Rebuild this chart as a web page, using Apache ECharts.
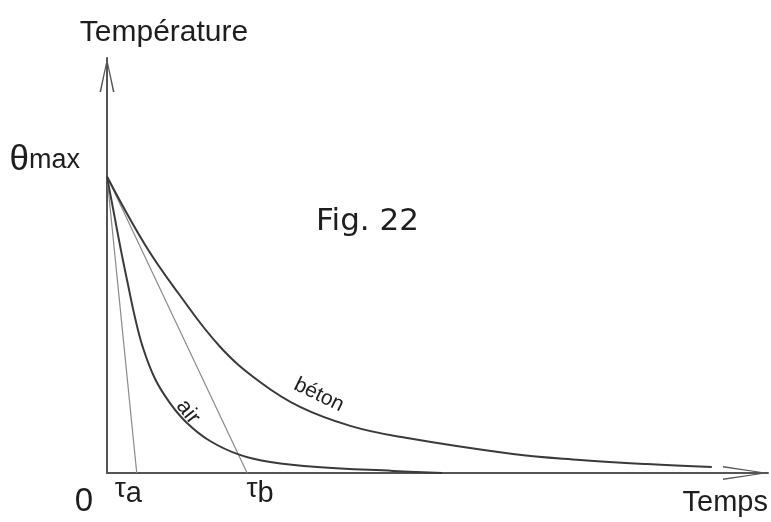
<!DOCTYPE html>
<html>
<head>
<meta charset="utf-8">
<script src="https://cdn.jsdelivr.net/npm/echarts@6/dist/echarts.min.js"></script>
<style>
html,body{margin:0;padding:0;background:#fff;}
#c{width:771px;height:522px;}
</style>
</head>
<body>
<div id="c"></div>
<script>
// ---- data (time in arbitrary units 0..100, temperature with θmax = 100)
const airTime     = [0, 1.06, 2.12, 3.18, 4.24, 5.45, 7.26, 9.53, 12.1, 15.6, 20.1, 24.7, 31.8, 43.3, 50.7];
const airTemp     = [100, 87.5, 75.0, 63.5, 52.4, 42.2, 31.8, 23.6, 16.9, 10.8, 6.1, 3.7, 2.0, 0.7, 0];
const betonTime   = [0, 5.75, 10.74, 17.1, 23.15, 29.2, 36.8, 44.3, 61.4, 71.6, 81.7, 91.5];
const betonTemp   = [100, 77.0, 60.8, 42.6, 30.7, 22.3, 15.9, 12.2, 6.4, 4.4, 3.0, 2.0];
const tangentATime = [0, 4.5];
const tangentATemp = [100, 0];
const tangentBTime = [0, 21.2];
const tangentBTemp = [100, 0];
const xTickValues  = [0, 4.5, 21.2];
const xTickLabels  = ['0', 'τa', 'τb'];
const yTickValue   = 100;
const yTickLabel   = 'θmax';
const curveNames   = ['air', 'béton'];
const axisNames    = ['Temps', 'Température'];
const figTitle     = 'Fig. 22';

function pairs(xs, ys) { return xs.map((x, i) => [x, ys[i]]); }

const FONT = '"Liberation Sans", Arial, sans-serif';
const TXT = '#1e1e1e';

const chart = echarts.init(document.getElementById('c'), null, {renderer: 'canvas'});

const xRich = {
  z:  {fontSize: 33, fontFamily: FONT, color: TXT, padding: [10, 46, 0, 0]},
  t1: {fontSize: 28, fontFamily: FONT, color: TXT, padding: [0, 0, 9, 0]},
  sa: {fontSize: 29, fontFamily: FONT, color: TXT, padding: [0, 17, 0, 0]},
  t2: {fontSize: 28, fontFamily: FONT, color: TXT, padding: [0, 0, 9, 26]},
  sb: {fontSize: 29, fontFamily: FONT, color: TXT}
};

chart.setOption({
  animation: false,
  backgroundColor: '#fff',
  title: {
    text: figTitle, left: 316, top: 206, padding: 0,
    textStyle: {fontSize: 31, fontWeight: 'normal', fontFamily: '"DejaVu Sans", sans-serif', color: TXT}
  },
  grid: {left: 107, right: 3, top: 58, bottom: 49},
  xAxis: {
    type: 'value', min: 0, max: 100,
    name: axisNames[0], nameLocation: 'end', nameGap: 0,
    nameTextStyle: {fontSize: 29, fontFamily: FONT, color: TXT, align: 'right', verticalAlign: 'top', padding: [15, 0, 0, 0]},
    axisLine: {
      show: true, onZero: false,
      lineStyle: {color: '#555', width: 2},
      symbol: ['none', 'path://M0,45L7,0L14,45L12.4,45L7,6L1.6,45Z'],
      symbolSize: [14, 45],
      symbolOffset: [0, -22.5]
    },
    axisTick: {show: false},
    splitLine: {show: false},
    axisLabel: {
      show: true, margin: 2,
      customValues: xTickValues,
      formatter: function (v) {
        const i = xTickValues.indexOf(v);
        if (i === 0) return '{z|' + xTickLabels[0] + '}';
        if (i === 1) return '{t1|' + xTickLabels[1][0] + '}{sa|' + xTickLabels[1].slice(1) + '}';
        if (i === 2) return '{t2|' + xTickLabels[2][0] + '}{sb|' + xTickLabels[2].slice(1) + '}';
        return '';
      },
      rich: xRich
    }
  },
  yAxis: {
    type: 'value', min: 0, max: 140, interval: 100,
    name: axisNames[1], nameLocation: 'end', nameGap: 10,
    nameTextStyle: {fontSize: 30, fontFamily: FONT, color: TXT, align: 'center', verticalAlign: 'bottom', padding: [0, 0, 0, 114]},
    axisLine: {
      show: true, onZero: false,
      lineStyle: {color: '#555', width: 2},
      symbol: ['none', 'path://M0,34L7.5,0L15,34L13.4,34L7.5,5L1.6,34Z'],
      symbolSize: [15, 34],
      symbolOffset: [0, -17]
    },
    axisTick: {show: false},
    splitLine: {show: false},
    axisLabel: {
      show: true, margin: 27,
      formatter: function (v) {
        if (v === yTickValue) return '{th|' + yTickLabel[0] + '}{mx|' + yTickLabel.slice(1) + '}';
        return '';
      },
      rich: {
        th: {fontSize: 35, fontFamily: FONT, color: TXT, padding: [0, 0, 32, 0]},
        mx: {fontSize: 27, fontFamily: FONT, color: TXT, padding: [0, 0, 32, 0]}
      }
    }
  },
  series: [
    {type: 'line', name: 'tangent a', data: pairs(tangentATime, tangentATemp), showSymbol: false, silent: true,
     lineStyle: {color: '#8a8a8a', width: 1.2}},
    {type: 'line', name: 'tangent b', data: pairs(tangentBTime, tangentBTemp), showSymbol: false, silent: true,
     lineStyle: {color: '#8a8a8a', width: 1.2}},
    {type: 'line', name: curveNames[0], data: pairs(airTime, airTemp), showSymbol: false, smooth: 0.4,
     lineStyle: {color: '#3a3a3a', width: 2}},
    {type: 'line', name: curveNames[1], data: pairs(betonTime, betonTemp), showSymbol: false, smooth: 0.4,
     lineStyle: {color: '#3a3a3a', width: 2}}
  ],
  graphic: [
    {type: 'text', x: 188, y: 412, rotation: -52 * Math.PI / 180,
     style: {text: curveNames[0], fontSize: 22, fontFamily: FONT, fill: TXT, align: 'center', verticalAlign: 'middle'}},
    {type: 'text', x: 319, y: 395, rotation: -26 * Math.PI / 180,
     style: {text: curveNames[1], fontSize: 21, fontFamily: FONT, fill: TXT, align: 'center', verticalAlign: 'middle'}}
  ]
});
</script>
</body>
</html>
